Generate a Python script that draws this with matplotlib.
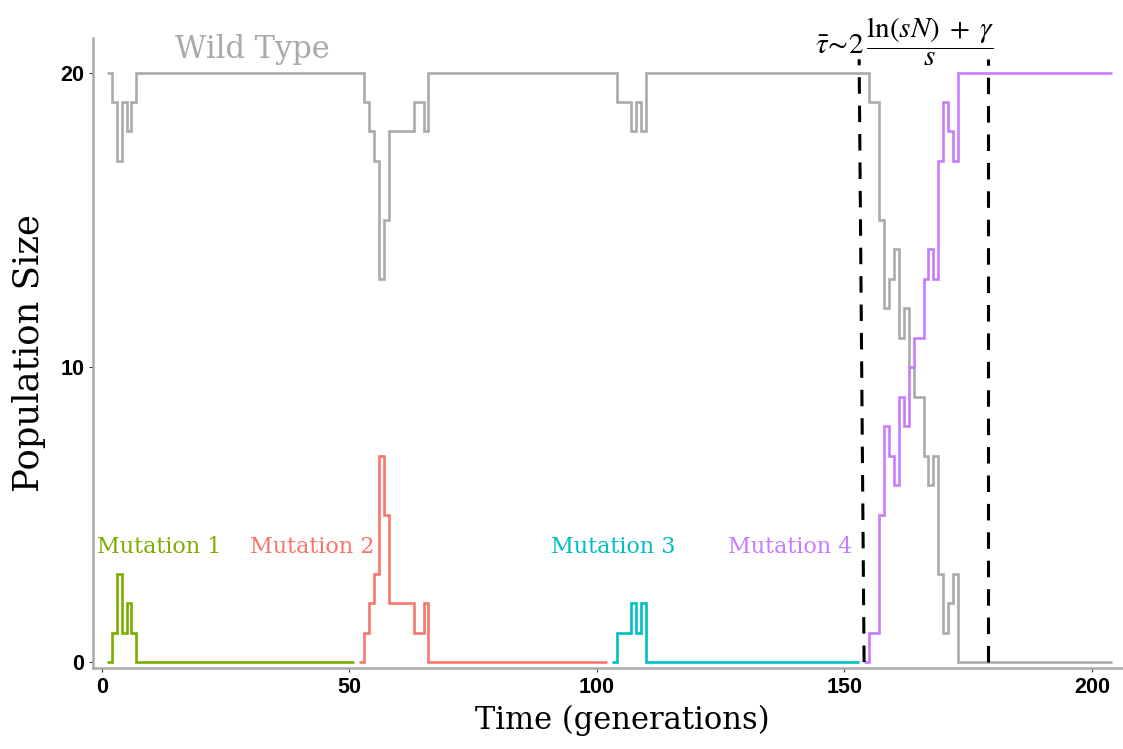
import matplotlib
matplotlib.use('Agg')
import matplotlib.pyplot as plt

# step data: generation where the count changes, and the new count
wt_t = [1, 2, 3, 4, 5, 6, 7, 53, 54, 55, 56, 57, 58, 63, 65, 66,
        104, 107, 108, 109, 110, 155, 157, 158, 159, 160, 161, 162, 163,
        164, 166, 167, 168, 169, 170, 171, 172, 173]
wt_n = [20, 19, 17, 19, 18, 19, 20, 19, 18, 17, 13, 15, 18, 19, 18, 20,
        19, 18, 19, 18, 20, 19, 15, 12, 13, 14, 11, 12, 10,
        9, 7, 6, 7, 3, 1, 2, 3, 0]
wt_end = 204

m1_t = [1, 2, 3, 4, 5, 6, 7]
m1_n = [0, 1, 3, 1, 2, 1, 0]
m1_end = 51

m2_t = [52, 53, 54, 55, 56, 57, 58, 63, 65, 66]
m2_n = [0, 1, 2, 3, 7, 5, 2, 1, 2, 0]
m2_end = 102

m3_t = [103, 104, 107, 108, 109, 110]
m3_n = [0, 1, 2, 1, 2, 0]
m3_end = 153

m4_t = [154, 155, 157, 158, 159, 160, 161, 162, 163, 164, 166, 167, 168,
        169, 170, 171, 172, 173]
m4_n = [0, 1, 5, 8, 7, 6, 9, 8, 10, 11, 13, 14, 13, 17, 19, 18, 17, 20]
m4_end = 204

# fixation time window (dashed lines)
tau_x0 = [153, 179]
tau_x1 = [154, 179]
tau_top = 20.45

serif = 'DejaVu Serif'

fig = plt.figure(figsize=(11.23, 7.49), dpi=100)
ax = fig.add_axes([0.0825, 0.1077, 0.9175, 0.8415])


def draw(ts, ns, end, color):
  ax.step(ts + [end], ns + [ns[-1]], where='post', color=color, lw=1.9,
          solid_joinstyle='miter', solid_capstyle='butt')


draw(wt_t, wt_n, wt_end, '#aaaaaa')
draw(m1_t, m1_n, m1_end, '#7cae00')
draw(m2_t, m2_n, m2_end, '#f8766d')
draw(m3_t, m3_n, m3_end, '#00bfc4')
draw(m4_t, m4_n, m4_end, '#c77cff')

for a, b in zip(tau_x0, tau_x1):
  ax.plot([b, a], [0, tau_top], color='black', lw=2.2,
          linestyle=(0, (5.4, 3.9)))

ax.text(30.4, 20.77, 'Wild Type', color='#aaaaaa', family=serif,
        fontsize=22, ha='center', va='center')
ax.text(11.6, 3.9, 'Mutation 1', color='#7cae00', family=serif,
        fontsize=16, ha='center', va='center')
ax.text(42.5, 3.9, 'Mutation 2', color='#f8766d', family=serif,
        fontsize=16, ha='center', va='center')
ax.text(103.4, 3.9, 'Mutation 3', color='#00bfc4', family=serif,
        fontsize=16, ha='center', va='center')
ax.text(139.0, 3.9, 'Mutation 4', color='#c77cff', family=serif,
        fontsize=16, ha='center', va='center')

ax.text(162.2, 21.05,
        r'$\bar{\tau}\!\sim\! 2\,\dfrac{\ln(sN)\;+\;\gamma}{s}$',
        math_fontfamily='stix', fontsize=21, ha='center', va='center',
        clip_on=False)

ax.set_xlim(-1.84, 206.3)
ax.set_ylim(-0.214, 21.17)
ax.set_xticks([0, 50, 100, 150, 200])
ax.set_yticks([0, 10, 20])

for s in ['top', 'right']:
  ax.spines[s].set_visible(False)
for s in ['left', 'bottom']:
  ax.spines[s].set_color('#aaaaaa')
  ax.spines[s].set_linewidth(1.8)

ax.tick_params(length=3, width=0.8, color='#333333', pad=3)
for lab in ax.get_xticklabels() + ax.get_yticklabels():
  lab.set_family('Liberation Sans')
  lab.set_fontweight('bold')
  lab.set_fontsize(15.5)

ax.set_xlabel('Time (generations)', family=serif, fontsize=22, labelpad=5)
ax.xaxis.label.set_x(0.5137)
ax.set_ylabel('Population Size', family=serif, fontsize=25.5, labelpad=10)

plt.savefig('out.png', dpi=100)
